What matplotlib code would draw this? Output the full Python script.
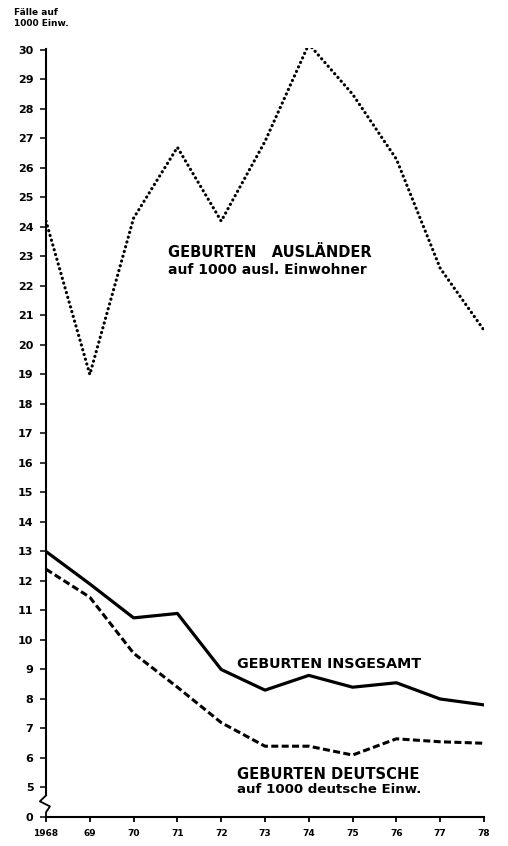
import matplotlib.pyplot as plt
import numpy as np

years = [1968, 1969, 1970, 1971, 1972, 1973, 1974, 1975, 1976, 1977, 1978]
year_labels = ["1968", "69", "70", "71", "72", "73", "74", "75", "76", "77", "78"]

auslaender = [24.2, 19.0, 24.3, 26.7, 24.2, 26.9, 30.2, 28.5, 26.3, 22.6, 20.5]
insgesamt = [13.0, 11.9, 10.75, 10.9, 9.0, 8.3, 8.8, 8.4, 8.55, 8.0, 7.8]
deutsche = [12.4, 11.45, 9.55, 8.4, 7.2, 6.4, 6.4, 6.1, 6.65, 6.55, 6.5]

# y axis is broken: the "0" tick sits one unit below 5
y_ticks = [4] + list(range(5, 31))
y_labels = ["0"] + [str(v) for v in range(5, 31)]

fig = plt.figure(figsize=(5.08, 8.46), dpi=100)
ax = fig.add_axes([46 / 508, 29 / 846, 438 / 508, 768.5 / 846])

ax.plot(years, auslaender, color="black", linewidth=2.3,
        linestyle=(0, (0.05, 1.5)), dash_capstyle="round")
ax.plot(years, insgesamt, color="black", linewidth=2.3, solid_joinstyle="round")
ax.plot(years, deutsche, color="black", linewidth=2.2,
        linestyle=(0, (2.3, 1.1)))

ax.set_xlim(1968, 1978)
ax.set_ylim(4, 30.05)

ax.set_xticks(years)
ax.set_xticklabels(year_labels, fontsize=6.5, fontweight="bold")
ax.set_yticks(y_ticks)
ax.set_yticklabels(y_labels, fontsize=8, fontweight="bold")
ax.tick_params(axis="y", direction="out", length=4.5, width=1.1, pad=4.5)
ax.tick_params(axis="x", direction="out", length=3.5, width=1.3, pad=5)

for side in ["top", "right"]:
    ax.spines[side].set_visible(False)
ax.spines["bottom"].set_linewidth(1.5)
ax.spines["left"].set_linewidth(1.5)
ax.spines["left"].set_bounds(4.73, 30.05)

# break mark on the y axis
zx = [1968, 1967.86, 1968.09, 1968, 1968]
zy = [4.73, 4.53, 4.36, 4.16, 4.0]
ax.plot(zx, zy, color="black", linewidth=1.3, clip_on=False)

ax.text(14 / 508, 1 - 8 / 846, "Fälle auf\n1000 Einw.", transform=fig.transFigure,
        fontsize=6.5, fontweight="bold", va="top", ha="left", linespacing=1.3)

ax.text(1970.79, 23.38, "GEBURTEN   AUSLÄNDER", fontsize=10.5, fontweight="bold",
        va="top", ha="left")
ax.text(1970.79, 22.77, "auf 1000 ausl. Einwohner", fontsize=10, fontweight="bold",
        va="top", ha="left")
ax.text(1972.36, 9.42, "GEBURTEN INSGESAMT", fontsize=10.3, fontweight="bold",
        va="top", ha="left")
ax.text(1972.36, 5.70, "GEBURTEN DEUTSCHE", fontsize=10.6, fontweight="bold",
        va="top", ha="left")
ax.text(1972.36, 5.15, "auf 1000 deutsche Einw.", fontsize=9.6, fontweight="bold",
        va="top", ha="left")

fig.savefig("out.png", dpi=100)
